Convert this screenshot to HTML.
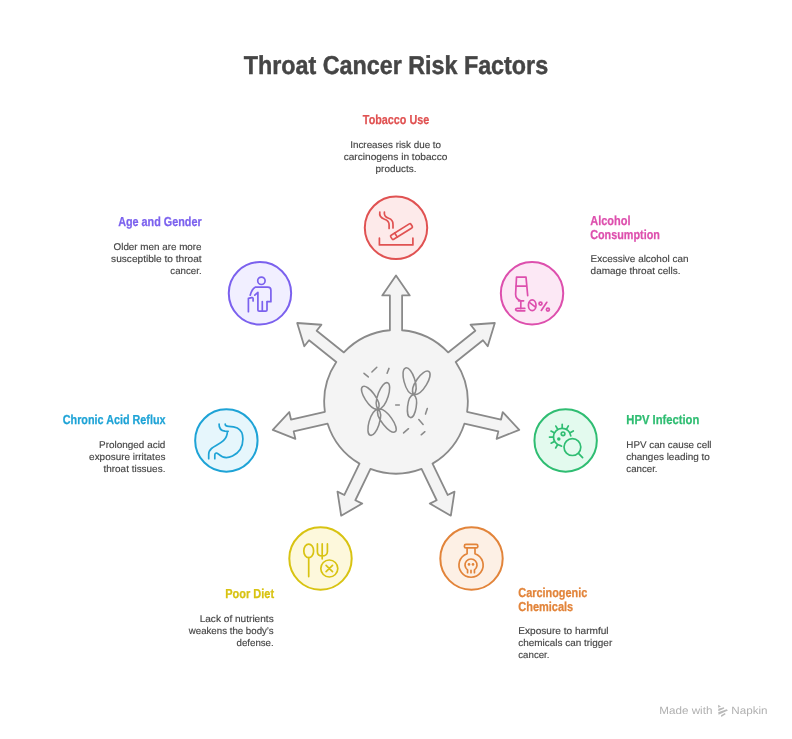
<!DOCTYPE html>
<html><head><meta charset="utf-8"><style>
html,body{margin:0;padding:0;background:#fff;}
body{width:792px;height:739px;position:relative;overflow:hidden;font-family:"Liberation Sans",sans-serif;}
svg{position:absolute;left:0;top:0;will-change:transform;}
text{font-family:"Liberation Sans",sans-serif;text-rendering:geometricPrecision;}
.t{font-weight:bold;font-size:25.9px;fill:#454545;stroke:#454545;stroke-width:0.45px;}
.h{font-weight:bold;font-size:13px;stroke:currentColor;stroke-width:0.25px;}
.d{font-size:9.75px;stroke:#454545;stroke-width:0.15px;}
</style></head><body>
<svg width="792" height="739" viewBox="0 0 792 739">
<path d="M389.90 330.26 L389.90 295.45 L382.25 295.45 L396.00 275.40 L409.75 295.45 L402.10 295.45 L402.10 330.26 A71.80 71.80 0 0 1 448.13 352.43 L475.34 330.72 L470.57 324.74 L494.82 322.99 L487.72 346.24 L482.95 340.26 L455.74 361.96 A71.80 71.80 0 0 1 467.10 411.77 L501.04 419.52 L502.74 412.06 L519.23 429.93 L496.62 438.87 L498.33 431.41 L464.39 423.67 A71.80 71.80 0 0 1 432.54 463.61 L447.64 494.97 L454.53 491.65 L450.84 515.68 L429.76 503.58 L436.65 500.26 L421.54 468.90 A71.80 71.80 0 0 1 370.46 468.90 L355.35 500.26 L362.24 503.58 L341.16 515.68 L337.47 491.65 L344.36 494.97 L359.46 463.61 A71.80 71.80 0 0 1 327.61 423.67 L293.67 431.41 L295.38 438.87 L272.77 429.93 L289.26 412.06 L290.96 419.52 L324.90 411.77 A71.80 71.80 0 0 1 336.26 361.96 L309.05 340.26 L304.28 346.24 L297.18 322.99 L321.43 324.74 L316.66 330.72 L343.87 352.43 A71.80 71.80 0 0 1 389.90 330.26 Z" fill="#f4f4f4" stroke="#8a8a8a" stroke-width="1.8" stroke-linejoin="round"/>
<g fill="none" stroke="#8a8a8a" stroke-width="1.55" stroke-linecap="round"><path d="M378.25 409.20C382.62 402.16 367.60 383.21 362.61 386.68C357.61 390.14 370.13 410.83 378.25 409.20M378.25 409.20C386.53 408.54 393.24 384.76 387.50 382.75C381.76 380.74 372.19 403.52 378.25 409.20M378.25 409.20C370.03 410.12 364.50 433.51 370.32 435.28C376.14 437.05 384.57 414.54 378.25 409.20M378.25 409.20C374.21 416.48 390.36 435.40 395.22 431.74C400.08 428.08 386.36 407.33 378.25 409.20M413.57 394.58C420.28 389.09 411.76 366.07 405.62 367.90C399.49 369.73 404.95 393.66 413.57 394.58M413.57 394.58C422.08 396.20 434.10 374.97 428.75 371.46C423.40 367.94 408.70 387.42 413.57 394.58M413.57 394.58C406.85 396.47 405.32 416.89 410.39 417.59C415.46 418.29 419.53 398.22 413.57 394.58"/><line x1="364.0" y1="373.3" x2="368.3" y2="376.9"/><line x1="371.9" y1="372.0" x2="376.8" y2="367.2"/><line x1="387.1" y1="373.3" x2="389.0" y2="368.4"/><line x1="395.7" y1="404.9" x2="399.3" y2="404.9"/><line x1="425.5" y1="414.1" x2="427.3" y2="408.6"/><line x1="418.8" y1="419.5" x2="423.1" y2="424.4"/><line x1="403.6" y1="432.9" x2="408.5" y2="428.7"/><line x1="421.2" y1="434.8" x2="424.9" y2="431.7"/></g>
<circle cx="396.00" cy="227.80" r="31.2" fill="#fdeaea" stroke="#e05252" stroke-width="2"/>
<g transform="translate(364.0 196.0)" fill="none" stroke="#e05252" color="#e05252" stroke-width="1.7" stroke-linecap="round" stroke-linejoin="round"><path d="M15.4 42.2V48.9H48.9V42.2"/>
<path d="M15.8 16.2C15.2 19.5 17 22 20.5 23.2C24 24.4 25.2 26.5 25.1 29V32.4"/>
<path d="M20.4 16.2C19.9 19.2 21.6 21.3 24.6 22.3C27.8 23.4 29.1 25.5 29 28.5V32"/>
<g transform="rotate(-32 37.5 35.6)"><rect x="25.6" y="33.2" width="23.8" height="4.8" rx="1.2"/><line x1="31" y1="33.2" x2="31" y2="38"/></g></g>
<circle cx="532.04" cy="293.31" r="31.2" fill="#fce8f5" stroke="#dd4fad" stroke-width="2"/>
<g transform="translate(500.0 261.0)" fill="none" stroke="#dd4fad" color="#dd4fad" stroke-width="1.7" stroke-linecap="round" stroke-linejoin="round"><path d="M20.8 39.8C17.8 38.8 15.6 36.7 15.6 33.2L16.5 16.2H26L27.7 34.6"/>
<path d="M16.2 25.1H26.3"/>
<path d="M18.6 39.8H23.6M20.8 39.8V47.6"/>
<path d="M15.6 48.6C15.6 47.8 16.2 47.4 17.2 47.4H24.8M15.6 48.6C15.6 49.4 16.2 49.8 17.2 49.8H24.8"/>
<ellipse cx="32.2" cy="44.3" rx="3.8" ry="5.4"/><path d="M29.4 41.4L35.2 45.9"/>
<circle cx="40.5" cy="42.6" r="1.5"/><circle cx="47.9" cy="48.6" r="1.5"/><path d="M46.8 41.3L41.3 49.4"/></g>
<circle cx="565.64" cy="440.52" r="31.2" fill="#e3faee" stroke="#2fbd72" stroke-width="2"/>
<g transform="translate(533.0 408.0)" fill="none" stroke="#2fbd72" color="#2fbd72" stroke-width="1.7" stroke-linecap="round" stroke-linejoin="round"><path d="M28.6 38.2L27.39 37.56A8.7 8.7 0 1 1 37.8 27.8"/>
<circle cx="30.05" cy="25.8" r="1.8"/><circle cx="25.8" cy="30.9" r="0.9" fill="currentColor"/>
<circle cx="39.4" cy="39.1" r="8.4"/><path d="M45.5 45.3L49.6 49.6"/>
<path d="M29.20 20.05L29.20 16.35M24.70 21.26L22.85 18.05M33.56 21.18L35.36 17.94M37.07 24.69L40.31 22.89M20.20 29.05L16.50 29.05M21.25 24.82L17.99 23.09M21.33 33.41L18.09 35.21M24.56 36.76L22.66 39.94"/></g>
<circle cx="471.50" cy="558.57" r="31.2" fill="#fdf0e5" stroke="#e2843a" stroke-width="2"/>
<g transform="translate(439.0 525.5)" fill="none" stroke="#e2843a" color="#e2843a" stroke-width="1.7" stroke-linecap="round" stroke-linejoin="round"><rect x="25.4" y="18.9" width="13.4" height="3.5" rx="1.5"/>
<path d="M28.1 22.4V28.2A12.1 12.1 0 1 0 36 28.2V22.4"/>
<path d="M28.56 47.2V44.4A6 6 0 1 1 35.44 44.4V47.2M32 44.8V47.2"/>
<circle cx="30" cy="38.9" r="1.3" fill="currentColor" stroke="none"/><circle cx="34" cy="38.9" r="1.3" fill="currentColor" stroke="none"/></g>
<circle cx="320.50" cy="558.57" r="31.2" fill="#fdf8dc" stroke="#d8c312" stroke-width="2"/>
<g transform="translate(288.0 525.0)" fill="none" stroke="#d8c312" color="#d8c312" stroke-width="1.7" stroke-linecap="round" stroke-linejoin="round"><ellipse cx="20.7" cy="25.9" rx="4.9" ry="6.8"/><path d="M20.7 32.7V51.6"/>
<path d="M29.4 18.9V26.7C29.4 29.2 31.4 30.9 34.2 30.9C37 30.9 39.4 29.2 39.4 26.7V18.9M34.2 18.9V33.8"/>
<circle cx="41.3" cy="43.5" r="8.5"/><path d="M38.1 40.3L44.5 46.7M44.5 40.3L38.1 46.7"/></g>
<circle cx="226.36" cy="440.52" r="31.2" fill="#e6f6fc" stroke="#1ea3d6" stroke-width="2"/>
<g transform="translate(194.0 408.0)" fill="none" stroke="#1ea3d6" color="#1ea3d6" stroke-width="1.7" stroke-linecap="round" stroke-linejoin="round"><path d="M25.1 16C24.9 19.8 26.8 22.6 31 23.2L34.2 23.3M33.4 23.3C33.4 26.5 32.5 29.8 29.4 32.7C26 35.9 20.5 38 17.5 40.5C15.3 42.4 14.7 44.5 14.7 46.5V50.7"/>
<path d="M31.2 16C31.1 17.6 32.4 18.4 34.6 18.4C37.5 18.4 40.5 18.6 43.3 20C47.2 22 48.9 26 48.9 31C48.9 38.9 44.5 45.1 38.5 48C33.5 50.4 28 49.5 24.5 46.2C23.2 45 22.1 44.6 21.3 45.5C20.9 46 20.8 46.7 20.8 47.5V50.7"/></g>
<circle cx="259.96" cy="293.31" r="31.2" fill="#f1efff" stroke="#7b61ee" stroke-width="2"/>
<g transform="translate(228.0 261.0)" fill="none" stroke="#7b61ee" color="#7b61ee" stroke-width="1.7" stroke-linecap="round" stroke-linejoin="round"><circle cx="33.4" cy="19.8" r="3.7"/>
<path d="M22.2 34.2C23.3 30.2 24.6 27.6 27.2 26.2H39.8C41.7 26.2 42.9 27.4 42.9 29.3V40.7H39.4"/>
<path d="M25.1 39.9L25.1 37.5C25.1 36.6 24.4 36.4 23.6 36.6L20.4 37.4V50.7"/>
<path d="M26.8 34.1L29.9 31.4V48.9C29.9 49.6 30.5 50.2 31.2 50.2H33.2C33.9 50.2 34.3 49.6 34.3 48.9V40.5V48.9C34.3 49.6 34.9 50.2 35.6 50.2H37.7C38.4 50.2 39 49.6 39 48.9V40.7"/></g>

<text class="t" transform="translate(395.95 73.8) scale(0.900 1)" text-anchor="middle">Throat Cancer Risk Factors</text>
<text class="h" transform="translate(396.05 124.00) scale(0.831 1)" text-anchor="middle" fill="#e05252" color="#e05252">Tobacco Use</text>
<text class="d" transform="translate(395.65 147.90) scale(1.010 1)" text-anchor="middle" fill="#454545" color="#454545">Increases risk due to</text>
<text class="d" transform="translate(395.50 160.00) scale(1.040 1)" text-anchor="middle" fill="#454545" color="#454545">carcinogens in tobacco</text>
<text class="d" transform="translate(396.00 172.00) scale(1.020 1)" text-anchor="middle" fill="#454545" color="#454545">products.</text>
<text class="h" transform="translate(201.60 225.90) scale(0.831 1)" text-anchor="end" fill="#7b61ee" color="#7b61ee">Age and Gender</text>
<text class="d" transform="translate(201.60 249.80) scale(1.009 1)" text-anchor="end" fill="#454545" color="#454545">Older men are more</text>
<text class="d" transform="translate(201.60 261.80) scale(1.037 1)" text-anchor="end" fill="#454545" color="#454545">susceptible to throat</text>
<text class="d" transform="translate(201.60 273.80) scale(0.994 1)" text-anchor="end" fill="#454545" color="#454545">cancer.</text>
<text class="h" transform="translate(590.20 224.70) scale(0.845 1)" text-anchor="start" fill="#dd4fad" color="#dd4fad">Alcohol</text>
<text class="h" transform="translate(590.20 238.70) scale(0.832 1)" text-anchor="start" fill="#dd4fad" color="#dd4fad">Consumption</text>
<text class="d" transform="translate(590.60 262.00) scale(1.020 1)" text-anchor="start" fill="#454545" color="#454545">Excessive alcohol can</text>
<text class="d" transform="translate(590.60 274.00) scale(1.024 1)" text-anchor="start" fill="#454545" color="#454545">damage throat cells.</text>
<text class="h" transform="translate(626.30 423.80) scale(0.864 1)" text-anchor="start" fill="#2fbd72" color="#2fbd72">HPV Infection</text>
<text class="d" transform="translate(626.30 447.80) scale(1.008 1)" text-anchor="start" fill="#454545" color="#454545">HPV can cause cell</text>
<text class="d" transform="translate(626.30 459.80) scale(1.020 1)" text-anchor="start" fill="#454545" color="#454545">changes leading to</text>
<text class="d" transform="translate(626.30 471.80) scale(0.994 1)" text-anchor="start" fill="#454545" color="#454545">cancer.</text>
<text class="h" transform="translate(165.50 423.80) scale(0.830 1)" text-anchor="end" fill="#1ea3d6" color="#1ea3d6">Chronic Acid Reflux</text>
<text class="d" transform="translate(165.40 447.80) scale(1.020 1)" text-anchor="end" fill="#454545" color="#454545">Prolonged acid</text>
<text class="d" transform="translate(165.40 459.80) scale(1.020 1)" text-anchor="end" fill="#454545" color="#454545">exposure irritates</text>
<text class="d" transform="translate(165.40 471.80) scale(1.020 1)" text-anchor="end" fill="#454545" color="#454545">throat tissues.</text>
<text class="h" transform="translate(274.10 597.80) scale(0.845 1)" text-anchor="end" fill="#d8c312" color="#d8c312">Poor Diet</text>
<text class="d" transform="translate(273.70 621.80) scale(1.035 1)" text-anchor="end" fill="#454545" color="#454545">Lack of nutrients</text>
<text class="d" transform="translate(273.70 633.80) scale(0.994 1)" text-anchor="end" fill="#454545" color="#454545">weakens the body’s</text>
<text class="d" transform="translate(273.70 645.80) scale(0.994 1)" text-anchor="end" fill="#454545" color="#454545">defense.</text>
<text class="h" transform="translate(518.25 596.60) scale(0.839 1)" text-anchor="start" fill="#e2843a" color="#e2843a">Carcinogenic</text>
<text class="h" transform="translate(518.25 610.50) scale(0.845 1)" text-anchor="start" fill="#e2843a" color="#e2843a">Chemicals</text>
<text class="d" transform="translate(518.25 633.80) scale(1.035 1)" text-anchor="start" fill="#454545" color="#454545">Exposure to harmful</text>
<text class="d" transform="translate(518.25 645.80) scale(1.020 1)" text-anchor="start" fill="#454545" color="#454545">chemicals can trigger</text>
<text class="d" transform="translate(518.25 657.80) scale(0.994 1)" text-anchor="start" fill="#454545" color="#454545">cancer.</text>

<g fill="#b0b0b0" font-size="10.6px"><text transform="translate(659.3 713.6) scale(1.1 1)">Made with</text><text transform="translate(731.3 713.6) scale(1.1 1)">Napkin</text></g>
<g fill="#b9b9b9"><path d="M718.1 704.8L721 706.5L718.1 707.7Z"/><path d="M718.3 708.7L724 707.3L724.2 708.6L718.3 711.3Z"/><path d="M718.2 712.2L726.7 709.2L727.9 710.4L718.5 714.7Z"/><path d="M721 715.2L724.9 713.1L725.6 714.3L721.3 716.9Z"/></g>
</svg>
</body></html>
